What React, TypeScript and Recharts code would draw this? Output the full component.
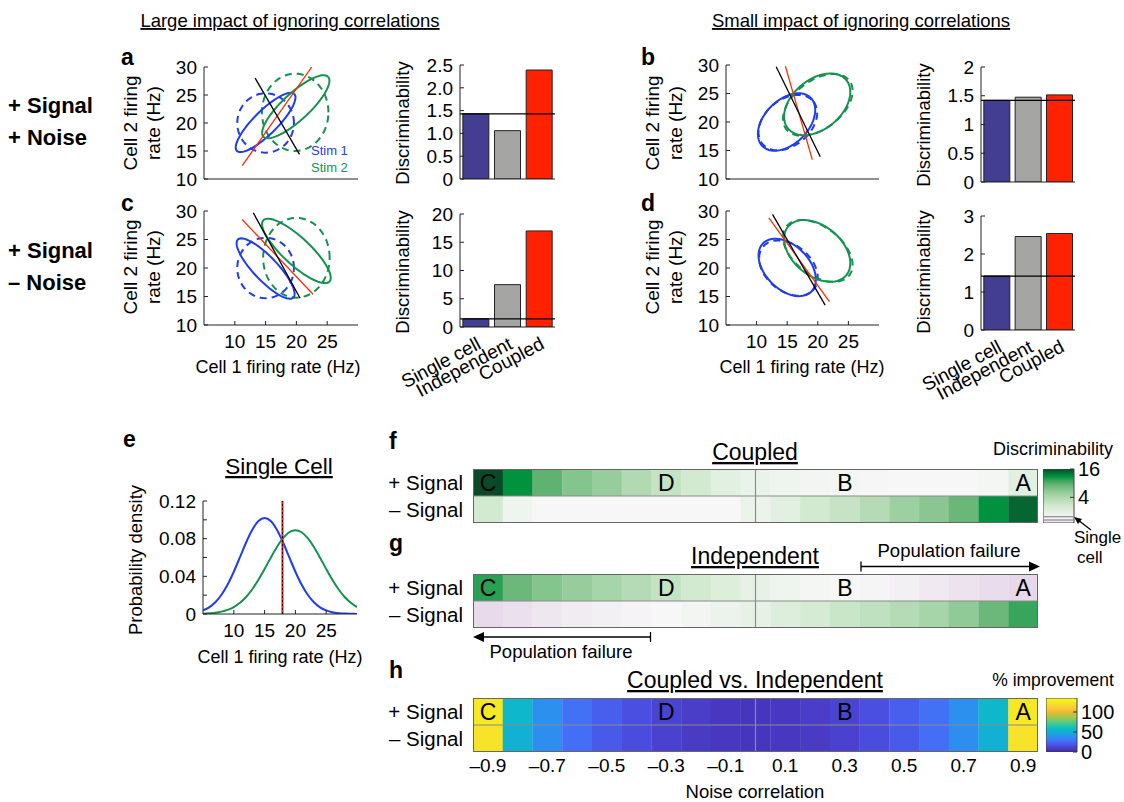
import React from 'react';
import {
  ScatterChart, Scatter, LineChart, Line, BarChart, Bar, Cell, XAxis, YAxis,
  ReferenceLine, LabelList,
} from 'recharts';

const FONT = '"Liberation Sans", Arial, Helvetica, sans-serif';
const BLUE = '#1f3cf2';
const GREEN = '#159250';
const RED = '#ff2a00';
const barColors = ['#433e92', '#a5a6a4', '#ff2200'];

// ---------- panels a-d : covariance ellipses [cx, cy, semi-major, semi-minor, angle deg] ----------
const s1CoupledA = [15.0, 20.1, 6.9, 2.0, 48];
const s1IndepA = [15.0, 20.0, 4.6, 5.3, 0];
const s2CoupledA = [19.9, 22.9, 7.5, 2.3, 46];
const s2IndepA = [19.8, 21.9, 5.4, 6.9, 0];
const coupledBoundA = [{ x: 11.2, y: 12.4 }, { x: 22.5, y: 30 }];
const indepBoundA = [{ x: 13.3, y: 28.0 }, { x: 20.5, y: 14.4 }];

const s1CoupledC = [15.0, 19.9, 6.8, 2.0, -49];
const s1IndepC = [15.0, 20.0, 4.6, 5.3, 0];
const s2CoupledC = [20.0, 23.0, 7.6, 2.3, -45.5];
const s2IndepC = [20.0, 21.8, 5.4, 7.0, 0];
const coupledBoundC = [{ x: 11.2, y: 28.5 }, { x: 22.7, y: 15.4 }];
const indepBoundC = [{ x: 13.0, y: 29.7 }, { x: 20.6, y: 14.7 }];

const s1CoupledB = [14.9, 20.0, 5.8, 3.7, 50];
const s1IndepB = [15.1, 19.9, 5.6, 3.9, 46];
const s2CoupledB = [19.9, 23.1, 6.4, 4.2, 45];
const s2IndepB = [20.0, 23.0, 6.7, 4.1, 42];
const coupledBoundB = [{ x: 14.7, y: 29.8 }, { x: 19.1, y: 13.4 }];
const indepBoundB = [{ x: 13.2, y: 29.7 }, { x: 20.4, y: 13.9 }];

const s1CoupledD = [15.0, 20.1, 5.8, 3.7, -50];
const s1IndepD = [15.2, 20.0, 5.6, 3.9, -46];
const s2CoupledD = [19.9, 23.0, 6.4, 4.2, -45];
const s2IndepD = [20.0, 23.0, 6.7, 4.1, -42];
const coupledBoundD = [{ x: 12.0, y: 28.8 }, { x: 21.9, y: 14.1 }];
const indepBoundD = [{ x: 12.6, y: 29.4 }, { x: 21.2, y: 13.5 }];

// ---------- bar panels ----------
const barNames = ['Single cell', 'Independent', 'Coupled'];
const discA = [1.43, 1.06, 2.39];
const discB = [1.42, 1.475, 1.515];
const discC = [1.45, 7.5, 17.0];
const discD = [1.42, 2.46, 2.54];

// ---------- panel e ----------
const rateX = [5, 6, 7, 8, 9, 10, 11, 12, 13, 14, 15, 16, 17, 18, 19, 20, 21, 22, 23, 24, 25, 26, 27, 28, 29, 30];
const stim1Density = [0.0038, 0.0071, 0.0124, 0.0204, 0.0313, 0.0449, 0.0603, 0.0759, 0.0894, 0.0987, 0.102, 0.0987, 0.0894, 0.0759, 0.0603, 0.0449, 0.0313, 0.0204, 0.0124, 0.0071, 0.0038, 0.0019, 0.0009, 0.0004, 0.0002, 0.0001];
const stim2Density = [0.0003, 0.0007, 0.0013, 0.0025, 0.0044, 0.0074, 0.0119, 0.0181, 0.0263, 0.0363, 0.0478, 0.0598, 0.0711, 0.0805, 0.0868, 0.089, 0.0868, 0.0805, 0.0711, 0.0598, 0.0478, 0.0363, 0.0263, 0.0181, 0.0119, 0.0074];
const singleCellThreshold = 17.9;

// ---------- heatmaps f-h ----------
const noiseCorr = [-0.9, -0.8, -0.7, -0.6, -0.5, -0.4, -0.3, -0.2, -0.1, 0, 0.1, 0.2, 0.3, 0.4, 0.5, 0.6, 0.7, 0.8, 0.9];
const cellLetters = ['C', '', '', '', '', '', 'D', '', '', '', '', '', 'B', '', '', '', '', '', 'A'];
const coupledPlus = [17, 11.1, 7.7, 5.8, 5.0, 3.8, 3.1, 2.6, 2.0, 1.76, 1.65, 1.55, 1.5, 1.47, 1.46, 1.45, 1.46, 1.5, 2.0];
const coupledMinus = [2.6, 1.65, 1.46, 1.45, 1.44, 1.44, 1.44, 1.45, 1.46, 1.72, 2.0, 2.6, 3.0, 3.7, 4.8, 5.6, 7.1, 11.1, 14];
const indepPlus = [9.5, 7.0, 5.8, 5.0, 4.3, 3.7, 3.1, 2.6, 2.2, 1.85, 1.65, 1.5, 1.45, 1.4, 1.33, 1.25, 1.18, 1.1, 1.06];
const indepMinus = [1.08, 1.15, 1.22, 1.28, 1.33, 1.38, 1.43, 1.55, 1.7, 1.85, 2.15, 2.5, 2.85, 3.2, 3.7, 4.3, 5.3, 7.0, 9.0];
const improvePlus = [125, 55, 38, 27, 21, 16, 12, 9, 7, 6, 7, 9, 12, 16, 21, 27, 38, 55, 125];
const improveMinus = [122, 52, 37, 26, 20, 15, 11, 8, 7, 6, 7, 8, 11, 15, 20, 26, 37, 52, 122];
const singleCellDisc = 1.43;

// ---------- colour maps ----------
const greenStops: [number, string][] = [[0, '#f7f7f7'], [0.25, '#d2ead0'], [0.5, '#9dd0a1'], [0.7, '#5fb270'], [0.85, '#00923f'], [1, '#0a4a28']];
const purpleStops: [number, string][] = [[0, '#f7f7f7'], [1, '#e4d2e8']];
const parulaStops: [number, string][] = [[0, '#3e26a8'], [0.063, '#4a3cc6'], [0.125, '#4a50e4'], [0.188, '#466cf6'], [0.25, '#3385f7'], [0.313, '#239ce5'], [0.375, '#13afd7'], [0.438, '#0bbebf'], [0.5, '#31c69f'], [0.563, '#5ec97b'], [0.625, '#93c954'], [0.688, '#c5c236'], [0.75, '#eebd39'], [0.813, '#fdc838'], [0.875, '#f8da2c'], [0.938, '#f5ed22'], [1, '#f9fb14']];

const rgb = (h: string) => [1, 3, 5].map((i) => parseInt(h.slice(i, i + 2), 16));
const interp = (stops: [number, string][], t: number) => {
  const u = Math.max(0, Math.min(1, t));
  let k = 0;
  while (k < stops.length - 2 && u > stops[k + 1][0]) k++;
  const [t0, c0] = stops[k];
  const [t1, c1] = stops[k + 1];
  const f = (u - t0) / (t1 - t0);
  const a = rgb(c0), b = rgb(c1);
  return `rgb(${a.map((v, i) => Math.round(v + (b[i] - v) * f)).join(',')})`;
};
const discColor = (v: number) => {
  const l = Math.log2(v), l0 = Math.log2(singleCellDisc);
  if (l >= l0) return interp(greenStops, (l - l0) / (4 - l0));
  return interp(purpleStops, (l0 - l) / l0);
};
const IMPROVE_MAX = 135;
const improveColor = (v: number) => interp(parulaStops, v / IMPROVE_MAX);

const ellipsePoints = (e: number[]) => {
  const [cx, cy, a, b, deg] = e;
  const p = (deg * Math.PI) / 180;
  const pts = [];
  for (let k = 0; k <= 72; k++) {
    const t = (k / 72) * 2 * Math.PI;
    pts.push({
      x: cx + a * Math.cos(t) * Math.cos(p) - b * Math.sin(t) * Math.sin(p),
      y: cy + a * Math.cos(t) * Math.sin(p) + b * Math.sin(t) * Math.cos(p),
    });
  }
  return pts;
};

const tickFont = { fill: '#000', fontSize: 19, fontFamily: FONT };
const noDot = () => <g />;
const MT = 12; // top room so the highest tick label is not clipped

function FiringPanel({ left, top, w, h, s1c, s1i, s2c, s2i, cBound, iBound, xLabels }: any) {
  const yW = 54;
  const xH = xLabels ? 34 : 14;
  const ell = (e: number[], color: string, dashed: boolean, key: string) => (
    <Scatter key={key} data={ellipsePoints(e)} fill={color} shape={noDot} isAnimationActive={false}
      line={{ stroke: color, strokeWidth: 2, strokeDasharray: dashed ? '7 5' : undefined }} />
  );
  return (
    <div style={{ position: 'absolute', left: left - yW, top: top - MT }}>
      <ScatterChart width={yW + w + 6} height={h + MT + xH} margin={{ top: MT, right: 6, bottom: 0, left: 0 }}>
        <XAxis type="number" dataKey="x" domain={[5, 30]} ticks={[10, 15, 20, 25]} interval={0} allowDataOverflow height={xH}
          tick={xLabels ? tickFont : false} tickSize={-4} tickMargin={14} stroke="#222" />
        <YAxis type="number" dataKey="y" domain={[10, 30]} ticks={[10, 15, 20, 25, 30]} interval={0} allowDataOverflow width={yW}
          tick={tickFont} tickSize={-4} tickMargin={11} stroke="#222" />
        {ell(s1i, BLUE, true, 's1i')}
        {ell(s2i, GREEN, true, 's2i')}
        {ell(s1c, BLUE, false, 's1c')}
        {ell(s2c, GREEN, false, 's2c')}
        <Scatter data={cBound} fill={RED} shape={noDot} isAnimationActive={false} line={{ stroke: RED, strokeWidth: 1.3 }} />
        <Scatter data={iBound} fill="#000" shape={noDot} isAnimationActive={false} line={{ stroke: '#000', strokeWidth: 1.3 }} />
      </ScatterChart>
    </div>
  );
}

function DiscPanel({ left, top, w, h, values, max, ticks, fmt, rotated }: any) {
  const yW = 54;
  const pad = 40;
  const xH = rotated ? 85 : 14;
  const data = barNames.map((n, i) => ({ name: n, v: values[i] }));
  return (
    <div style={{ position: 'absolute', left: left - yW - pad, top: top - MT }}>
      <BarChart width={pad + yW + w + 6} height={h + MT + xH} data={data} barCategoryGap="9%" margin={{ top: MT, right: 6, bottom: 0, left: pad }}>
        <XAxis dataKey="name" height={xH} interval={0} tickLine={false} stroke="#222" tickMargin={3}
          tick={rotated ? { ...tickFont, fontSize: 19, angle: -28, textAnchor: 'end' } : false} />
        <YAxis type="number" domain={[0, max]} ticks={ticks} interval={0} tickFormatter={fmt} allowDataOverflow width={yW}
          tick={tickFont} tickSize={-4} tickMargin={11} stroke="#222" />
        <Bar dataKey="v" stroke="#222" strokeWidth={1} isAnimationActive={false}>
          {values.map((_: number, i: number) => <Cell key={i} fill={barColors[i]} />)}
        </Bar>
        <ReferenceLine y={values[0]} stroke="#000" strokeWidth={1.2} />
      </BarChart>
    </div>
  );
}

const fmtRho = (v: number) => (v < 0 ? `\u2013${Math.abs(v)}` : `${v}`);

function HeatStrip({ top, plus, minus, colorOf, xTicks }: any) {
  const yW = 90;
  const w = 565;
  const h = 54;
  const xH = xTicks ? 32 : 0;
  const data = noiseCorr.map((r, i) => ({ rho: r, letter: cellLetters[i], minusBand: 1, plusBand: 1 }));
  return (
    <div style={{ position: 'absolute', left: 473 - yW, top }}>
      <BarChart width={yW + w} height={h + xH} data={data} barCategoryGap={0} barGap={0} margin={{ top: 0, right: 0, bottom: 0, left: 0 }}>
        <XAxis dataKey="rho" hide={!xTicks} interval={1} tickLine={false} axisLine={false} height={xH}
          tickFormatter={fmtRho} tickSize={0} tickMargin={7} tick={tickFont} />
        <YAxis type="number" domain={[0, 2]} ticks={[0.5, 1.5]} interval={0} width={yW} axisLine={false} tickLine={false}
          tickSize={0} tickMargin={10} tick={{ ...tickFont, fontSize: 20.5 }}
          tickFormatter={(v: number) => (v > 1 ? '+ Signal' : '\u2013 Signal')} />
        <Bar dataKey="minusBand" stackId="row" isAnimationActive={false}>
          {minus.map((v: number, i: number) => <Cell key={i} fill={colorOf(v)} />)}
        </Bar>
        <Bar dataKey="plusBand" stackId="row" isAnimationActive={false}>
          {plus.map((v: number, i: number) => <Cell key={i} fill={colorOf(v)} />)}
          <LabelList dataKey="letter" position="center" style={{ fontSize: 23, fill: '#000', fontFamily: FONT }} />
        </Bar>
        <ReferenceLine y={1} stroke="#8c8c8c" strokeWidth={1.2} />
        <ReferenceLine x={0} stroke="#8c8c8c" strokeWidth={1.2} />
      </BarChart>
      <div style={{ position: 'absolute', left: yW, top: 0, width: w, height: h, border: '1px solid #666', boxSizing: 'border-box', pointerEvents: 'none' }} />
    </div>
  );
}

function ColorBar({ left, top, w, h, lo, hi, ticks, fmt, colorAt, id, marks }: any) {
  const stops = [];
  for (let k = 0; k <= 30; k++) stops.push({ off: k / 30, color: colorAt(hi - ((hi - lo) * k) / 30) });
  return (
    <div style={{ position: 'absolute', left, top: top - 12 }}>
      <BarChart width={w + 46} height={h + 24} data={[{ name: 'cb', v: [lo, hi] }]} barCategoryGap={0} margin={{ top: 12, right: 0, bottom: 12, left: 0 }}>
        <defs>
          <linearGradient id={id} x1="0" y1="0" x2="0" y2="1">
            {stops.map((s, i) => <stop key={i} offset={s.off} stopColor={s.color} />)}
          </linearGradient>
        </defs>
        <XAxis dataKey="name" hide />
        <YAxis orientation="right" type="number" domain={[lo, hi]} ticks={ticks} interval={0} tickFormatter={fmt} allowDataOverflow width={46}
          axisLine={false} tickSize={-4} tickMargin={8} stroke="#333" tick={{ ...tickFont, fontSize: 20 }} />
        <Bar dataKey="v" fill={`url(#${id})`} stroke="#444" isAnimationActive={false} />
        {marks}
      </BarChart>
    </div>
  );
}

export default function App() {
  const densityData = rateX.map((x, i) => ({ x, s1: stim1Density[i], s2: stim2Density[i] }));
  const txt = { fontFamily: FONT, fill: '#000' } as any;
  return (
    <div style={{ position: 'absolute', left: 0, top: 0, width: 1124, height: 802, background: '#fff', fontFamily: FONT, overflow: 'hidden' }}>
      <FiringPanel left={204} top={67} w={154} h={112} s1c={s1CoupledA} s1i={s1IndepA} s2c={s2CoupledA} s2i={s2IndepA} cBound={coupledBoundA} iBound={indepBoundA} />
      <FiringPanel left={204} top={211} w={154} h={114} s1c={s1CoupledC} s1i={s1IndepC} s2c={s2CoupledC} s2i={s2IndepC} cBound={coupledBoundC} iBound={indepBoundC} xLabels />
      <FiringPanel left={726} top={65} w={153} h={114} s1c={s1CoupledB} s1i={s1IndepB} s2c={s2CoupledB} s2i={s2IndepB} cBound={coupledBoundB} iBound={indepBoundB} />
      <FiringPanel left={726} top={211} w={153} h={114} s1c={s1CoupledD} s1i={s1IndepD} s2c={s2CoupledD} s2i={s2IndepD} cBound={coupledBoundD} iBound={indepBoundD} xLabels />

      <DiscPanel left={460} top={65} w={95} h={114} values={discA} max={2.5} ticks={[0, 0.5, 1, 1.5, 2, 2.5]} fmt={(v: number) => (v === 0 ? '0' : v.toFixed(1))} />
      <DiscPanel left={460} top={214} w={95} h={113} values={discC} max={20} ticks={[0, 5, 10, 15, 20]} rotated />
      <DiscPanel left={981} top={67} w={94} h={115} values={discB} max={2} ticks={[0, 0.5, 1, 1.5, 2]} />
      <DiscPanel left={981} top={216} w={94} h={114} values={discD} max={3} ticks={[0, 1, 2, 3]} rotated />

      <div style={{ position: 'absolute', left: 203 - 60, top: 501 - MT }}>
        <LineChart width={60 + 154 + 6} height={MT + 113 + 34} data={densityData} margin={{ top: MT, right: 6, bottom: 0, left: 0 }}>
          <XAxis type="number" dataKey="x" domain={[5, 30]} ticks={[10, 15, 20, 25]} interval={0} allowDataOverflow height={34}
            tick={tickFont} tickSize={-4} tickMargin={14} stroke="#222" />
          <YAxis type="number" domain={[0, 0.12]} ticks={[0, 0.02, 0.04, 0.06, 0.08, 0.1, 0.12]} interval={0} allowDataOverflow width={60}
            tickFormatter={(v: number) => (Math.round(v * 100) % 4 === 0 ? (v === 0 ? '0' : v.toFixed(2)) : '')}
            tick={tickFont} tickSize={-4} tickMargin={11} stroke="#222" />
          <Line dataKey="s1" type="monotone" stroke={BLUE} strokeWidth={2} dot={false} isAnimationActive={false} />
          <Line dataKey="s2" type="monotone" stroke={GREEN} strokeWidth={2} dot={false} isAnimationActive={false} />
          <ReferenceLine x={singleCellThreshold} stroke="#e8190f" strokeWidth={2} />
          <ReferenceLine x={singleCellThreshold} stroke="#000" strokeWidth={0.8} strokeDasharray="2 2" />
        </LineChart>
      </div>

      <HeatStrip top={469} plus={coupledPlus} minus={coupledMinus} colorOf={discColor} />
      <HeatStrip top={574} plus={indepPlus} minus={indepMinus} colorOf={discColor} />
      <HeatStrip top={698} plus={improvePlus} minus={improveMinus} colorOf={improveColor} xTicks />

      <ColorBar left={1043} top={469} w={31} h={54} lo={Math.log2(1.14)} hi={4} ticks={[2, 4]} fmt={(v: number) => String(2 ** v)}
        colorAt={(l: number) => discColor(2 ** l)} id="gradDisc"
        marks={[
          <ReferenceLine key="m1" y={Math.log2(1.55)} stroke="#888" strokeWidth={1.2} />,
          <ReferenceLine key="m2" y={Math.log2(1.32)} stroke="#888" strokeWidth={1.2} />,
        ]} />
      <ColorBar left={1046} top={698} w={31} h={54} lo={0} hi={IMPROVE_MAX} ticks={[0, 50, 100]} fmt={(v: number) => String(v)}
        colorAt={improveColor} id="gradImprove" />

      <svg width={1124} height={802} style={{ position: 'absolute', left: 0, top: 0, pointerEvents: 'none' }}>
        <text {...txt} x={290} y={27} fontSize={18.5} textAnchor="middle" textDecoration="underline">Large impact of ignoring correlations</text>
        <text {...txt} x={861} y={27} fontSize={18.5} textAnchor="middle" textDecoration="underline">Small impact of ignoring correlations</text>

        <text {...txt} x={8} y={113} fontSize={22} fontWeight="bold">+ Signal</text>
        <text {...txt} x={8} y={145} fontSize={22} fontWeight="bold">+ Noise</text>
        <text {...txt} x={8} y={258} fontSize={22} fontWeight="bold">+ Signal</text>
        <text {...txt} x={8} y={290} fontSize={22} fontWeight="bold">{'\u2013 Noise'}</text>

        <text {...txt} x={121} y={65} fontSize={23} fontWeight="bold">a</text>
        <text {...txt} x={641} y={65} fontSize={23} fontWeight="bold">b</text>
        <text {...txt} x={121} y={211} fontSize={23} fontWeight="bold">c</text>
        <text {...txt} x={641} y={211} fontSize={23} fontWeight="bold">d</text>
        <text {...txt} x={123} y={447} fontSize={23} fontWeight="bold">e</text>
        <text {...txt} x={389} y={449} fontSize={23} fontWeight="bold">f</text>
        <text {...txt} x={389} y={551} fontSize={23} fontWeight="bold">g</text>
        <text {...txt} x={389} y={678} fontSize={23} fontWeight="bold">h</text>

        {[[137, 160, 123], [137, 160, 267], [659, 682, 123], [659, 682, 267]].map(([x1, x2, cy], i) => (
          <g key={i}>
            <text {...txt} fontSize={19} textAnchor="middle" transform={`translate(${x1},${cy}) rotate(-90)`}>Cell 2 firing</text>
            <text {...txt} fontSize={19} textAnchor="middle" transform={`translate(${x2},${cy}) rotate(-90)`}>rate (Hz)</text>
          </g>
        ))}
        {[[409, 123], [409, 272], [930, 125], [930, 272]].map(([x, cy], i) => (
          <text key={i} {...txt} fontSize={18.5} textAnchor="middle" transform={`translate(${x},${cy}) rotate(-90)`}>Discriminability</text>
        ))}
        <text {...txt} x={278} y={373} fontSize={18} textAnchor="middle">Cell 1 firing rate (Hz)</text>
        <text {...txt} x={802} y={373} fontSize={18} textAnchor="middle">Cell 1 firing rate (Hz)</text>
        <text x={311} y={155} fontSize={13} fill={BLUE} fontFamily={FONT}>Stim 1</text>
        <text x={311} y={172} fontSize={13} fill={GREEN} fontFamily={FONT}>Stim 2</text>

        <text {...txt} x={279} y={474} fontSize={22.5} textAnchor="middle" textDecoration="underline">Single Cell</text>
        <text {...txt} fontSize={18.5} textAnchor="middle" transform="translate(142,560) rotate(-90)">Probability density</text>
        <text {...txt} x={280} y={663} fontSize={18} textAnchor="middle">Cell 1 firing rate (Hz)</text>

        <text {...txt} x={755} y={460} fontSize={23} textAnchor="middle" textDecoration="underline">Coupled</text>
        <text {...txt} x={1053} y={455} fontSize={18} textAnchor="middle">Discriminability</text>
        <path d="M1091,530 L1078,520" stroke="#000" strokeWidth={1.2} />
        <polygon points="1074,517 1082,519 1078,524" fill="#000" />
        <text {...txt} x={1074} y={543} fontSize={17}>Single</text>
        <text {...txt} x={1077} y={563} fontSize={17}>cell</text>

        <text {...txt} x={755} y={564} fontSize={23} textAnchor="middle" textDecoration="underline">Independent</text>
        <text {...txt} x={949} y={557} fontSize={18.5} textAnchor="middle">Population failure</text>
        <line x1={861} y1={566.5} x2={1032} y2={566.5} stroke="#000" strokeWidth={1.3} />
        <line x1={861} y1={561.5} x2={861} y2={571.5} stroke="#000" strokeWidth={1.3} />
        <polygon points="1040,566.5 1029,561.5 1029,571.5" fill="#000" />
        <line x1={481} y1={637} x2={650.5} y2={637} stroke="#000" strokeWidth={1.3} />
        <line x1={650.5} y1={632} x2={650.5} y2={642} stroke="#000" strokeWidth={1.3} />
        <polygon points="473,637 484,632 484,642" fill="#000" />
        <text {...txt} x={561} y={658} fontSize={18.5} textAnchor="middle">Population failure</text>

        <text {...txt} x={755} y={688} fontSize={23} textAnchor="middle" textDecoration="underline">Coupled vs. Independent</text>
        <text {...txt} x={1053} y={686} fontSize={17.5} textAnchor="middle">% improvement</text>
        <text {...txt} x={755} y={798} fontSize={18.5} textAnchor="middle">Noise correlation</text>
      </svg>
    </div>
  );
}
